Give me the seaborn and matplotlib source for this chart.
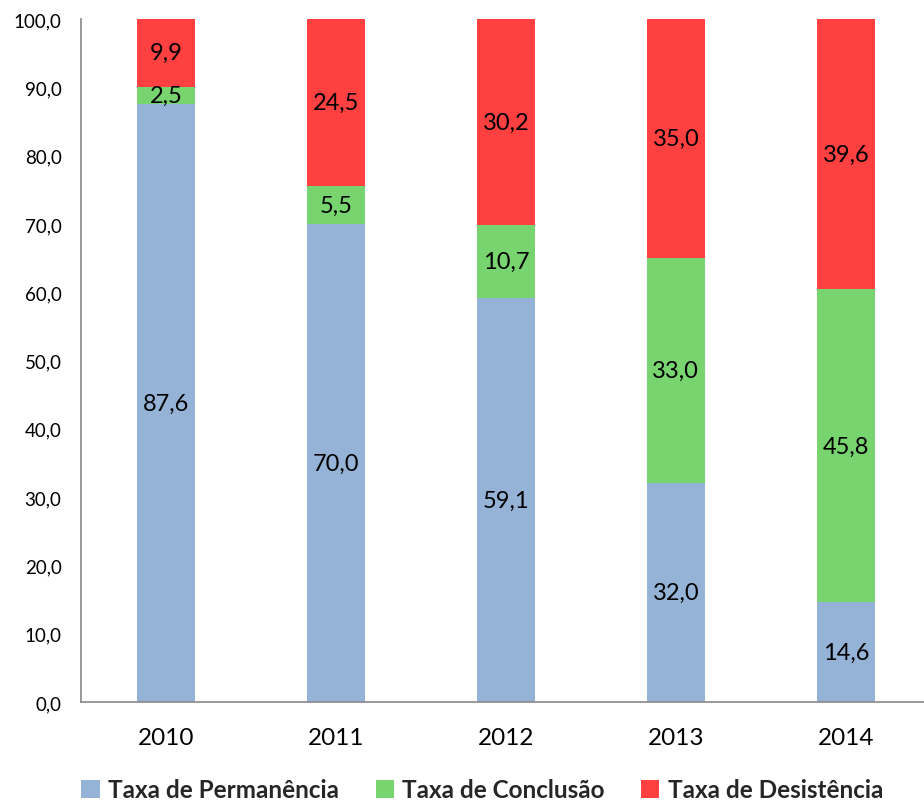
import numpy as np
import pandas as pd
import seaborn as sns
import matplotlib.pyplot as plt
from matplotlib.patches import Patch
from matplotlib.ticker import FuncFormatter

anos = ["2010", "2011", "2012", "2013", "2014"]
permanencia = [87.6, 70.0, 59.1, 32.0, 14.6]
conclusao = [2.5, 5.5, 10.7, 33.0, 45.8]
desistencia = [9.9, 24.5, 30.2, 35.0, 39.6]

series = ["Taxa de Permanência", "Taxa de Conclusão", "Taxa de Desistência"]
cores = ["#95B3D7", "#77D46F", "#FF4040"]

sns.set_style("white")
plt.rcParams['font.family'] = ['Lato', 'DejaVu Sans']

fig = plt.figure(figsize=(9.24, 8.04), dpi=100)
ax = fig.add_axes([81 / 924, 1 - 703 / 804, 1 - 81 / 924, (703 - 20) / 804])

valores = [permanencia, conclusao, desistencia]
base = np.zeros(len(anos))
for nome, vals, cor in zip(series, valores, cores):
    df = pd.DataFrame({"ano": anos, "valor": vals})
    sns.barplot(data=df, x="ano", y="valor", color=cor, width=0.34,
                bottom=base, ax=ax, saturation=1, linewidth=0)
    base = base + np.array(vals)

for cont, vals in zip(ax.containers, valores):
    ax.bar_label(cont, labels=[f"{v:.1f}".replace(".", ",") for v in vals],
                 label_type="center", fontsize=17, color="black")

ax.set_ylim(0, 100)
ax.set_xlim(-0.5, 4.46)
ax.set_yticks(np.arange(0, 101, 10))
ax.yaxis.set_major_formatter(FuncFormatter(lambda v, p: f"{v:.1f}".replace(".", ",")))
ax.tick_params(axis="both", length=0, colors="black")
ax.tick_params(axis="y", pad=14, labelsize=13.5)
ax.tick_params(axis="x", pad=18, labelsize=17.5)
ax.set_xlabel("")
ax.set_ylabel("")

for s in ["top", "right"]:
    ax.spines[s].set_visible(False)
for s in ["left", "bottom"]:
    ax.spines[s].set_color("#888888")
    ax.spines[s].set_linewidth(1.2)

handles = [Patch(facecolor=c, edgecolor="none") for c in cores]
fig.legend(handles, series, loc="center", bbox_to_anchor=(0.522, 1 - 791 / 804),
           ncol=3, frameon=False, prop={"weight": "bold", "size": 17.5},
           handlelength=0.75, handleheight=0.75, handletextpad=0.35, columnspacing=1.5)

fig.savefig("out.png", dpi=100)
